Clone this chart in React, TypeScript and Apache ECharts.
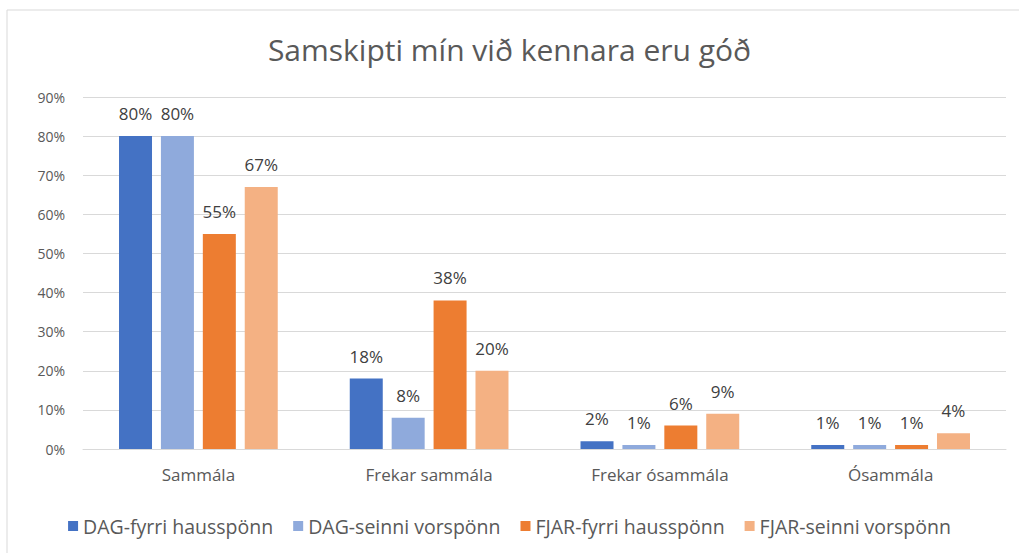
import React, { useEffect, useRef } from "react";
import * as echarts from "echarts";

const categories = ["Sammála", "Frekar sammála", "Frekar ósammála", "Ósammála"];
const seriesNames = [
  "DAG-fyrri hausspönn",
  "DAG-seinni vorspönn",
  "FJAR-fyrri hausspönn",
  "FJAR-seinni vorspönn",
];
const dagFyrri = [80, 18, 2, 1];
const dagSeinni = [80, 8, 1, 1];
const fjarFyrri = [55, 38, 6, 1];
const fjarSeinni = [67, 20, 9, 4];
const colors = ["#4472C4", "#8FAADC", "#ED7D31", "#F4B183"];

const FONT = "'Open Sans', sans-serif";

export default function App() {
  const ref = useRef<HTMLDivElement>(null);
  useEffect(() => {
    if (!ref.current) return;
    const chart = echarts.init(ref.current, undefined, { renderer: "svg" });
    const data = [dagFyrri, dagSeinni, fjarFyrri, fjarSeinni];
    chart.setOption({
      animation: false,
      textStyle: { fontFamily: FONT },
      title: {
        text: "Samskipti mín við kennara eru góð",
        left: "center",
        top: 34,
        padding: 0,
        textStyle: { fontFamily: FONT, fontSize: 30, fontWeight: "normal", color: "#595959" },
      },
      graphic: [
        {
          type: "rect",
          shape: { x: 7, y: 10, width: 1040, height: 600 },
          style: { fill: "none", stroke: "#D9D9D9", lineWidth: 1 },
          silent: true,
        },
      ],
      legend: {
        top: 511,
        left: "center",
        itemWidth: 10,
        itemHeight: 10,
        itemGap: 20,
        icon: "rect",
        textStyle: { fontFamily: FONT, fontSize: 19.5, color: "#595959" },
        data: seriesNames,
      },
      grid: { left: 83, right: 13, top: 97, bottom: 104, containLabel: false },
      xAxis: {
        type: "category",
        data: categories,
        axisLine: { lineStyle: { color: "#D9D9D9" } },
        axisTick: { show: false },
        axisLabel: { fontFamily: FONT, fontSize: 17, color: "#595959", margin: 17 },
      },
      yAxis: {
        type: "value",
        min: 0,
        max: 90,
        interval: 10,
        axisLine: { show: false },
        axisTick: { show: false },
        splitLine: { lineStyle: { color: "#D9D9D9" } },
        axisLabel: {
          fontFamily: FONT,
          fontSize: 14,
          color: "#595959",
          margin: 18,
          formatter: (v: number) => v + "%",
        },
      },
      series: seriesNames.map((name, i) => ({
        name,
        type: "bar",
        data: data[i],
        barWidth: 33,
        barGap: "27%",
        itemStyle: { color: colors[i] },
        label: {
          show: true,
          position: "top",
          distance: 14,
          fontFamily: FONT,
          fontSize: 17,
          color: "#404040",
          formatter: (p: any) => p.value + "%",
        },
      })),
    });
    return () => chart.dispose();
  }, []);
  return (
    <div
      ref={ref}
      style={{ position: "fixed", left: 0, top: 0, width: 1019, height: 553, background: "#fff" }}
    />
  );
}
